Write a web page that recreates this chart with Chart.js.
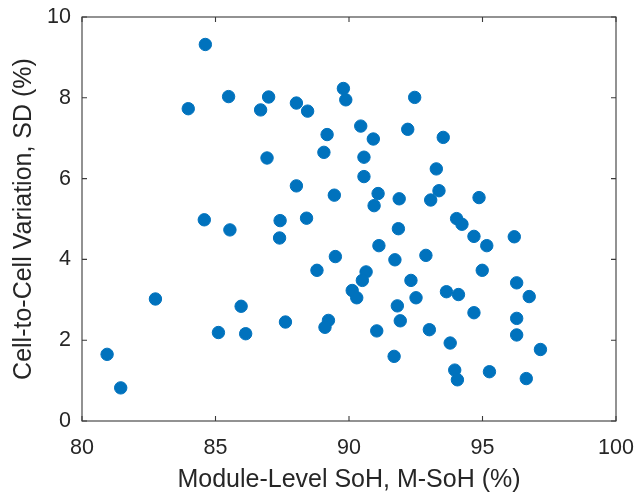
<!DOCTYPE html>
<html>
<head>
<meta charset="utf-8">
<script src="https://cdn.jsdelivr.net/npm/chart.js@4"></script>
<style>
  html, body { margin: 0; padding: 0; background: #fff; }
  canvas { display: block; }
</style>
</head>
<body>
<canvas id="sohChart" width="634" height="496"></canvas>
<script>
// ================================
// Data: module SoH vs cell-to-cell SD
// ================================
const sohValues = [
  84.62, 85.49, 83.98, 86.99, 86.69, 88.03, 88.45, 89.79, 89.88, 89.18,
  89.06, 86.93, 88.03, 89.45, 92.46, 90.44, 90.91, 92.20, 93.53, 90.56,
  90.56, 93.27, 93.37, 91.09, 90.94, 91.88, 93.06, 94.87, 94.03, 94.23,
  84.58, 85.54, 87.42, 88.41, 87.40, 89.49, 88.80, 82.75, 85.96, 85.11,
  86.13, 87.62, 89.23, 89.10, 80.94, 81.45, 91.85, 94.68, 95.16, 96.19,
  91.12, 91.72, 92.88, 90.64, 90.50, 90.12, 90.29, 92.32, 92.51, 94.99,
  96.28, 96.75, 93.65, 94.10, 91.81, 91.92, 94.68, 96.28, 96.28, 91.04,
  93.01, 93.79, 97.17, 91.69, 93.96, 94.06, 95.26, 96.64
];
const sdValues = [
  9.32, 8.03, 7.73, 8.02, 7.70, 7.87, 7.67, 8.23, 7.95, 7.09,
  6.65, 6.51, 5.82, 5.59, 8.01, 7.30, 6.98, 7.22, 7.02, 6.53,
  6.05, 6.24, 5.70, 5.63, 5.33, 5.50, 5.47, 5.53, 5.01, 4.87,
  4.98, 4.73, 4.96, 5.02, 4.53, 4.07, 3.73, 3.02, 2.84, 2.19,
  2.16, 2.45, 2.49, 2.32, 1.65, 0.82, 4.76, 4.57, 4.34, 4.56,
  4.34, 3.99, 4.10, 3.69, 3.48, 3.23, 3.05, 3.48, 3.05, 3.73,
  3.42, 3.08, 3.20, 3.13, 2.85, 2.48, 2.68, 2.54, 2.13, 2.23,
  2.26, 1.93, 1.77, 1.60, 1.26, 1.02, 1.22, 1.05
];

const xTicks = [80, 85, 90, 95, 100];
const yTicks = [0, 2, 4, 6, 8, 10];

const points = sohValues.map((x, i) => ({ x, y: sdValues[i] }));

// ================================
// Axes box + inward ticks
// ================================
const TEXT = "#262626";

const boxTicks = {
  id: "boxTicks",
  afterDraw(chart) {
    const { ctx, chartArea: a, scales } = chart;
    const len = 5;
    ctx.save();
    ctx.strokeStyle = "#3a3a3a";
    ctx.lineWidth = 1.1;
    ctx.strokeRect(a.left, a.top, a.right - a.left, a.bottom - a.top);
    ctx.beginPath();
    xTicks.forEach((v) => {
      const px = scales.x.getPixelForValue(v);
      ctx.moveTo(px, a.bottom); ctx.lineTo(px, a.bottom - len);
      ctx.moveTo(px, a.top); ctx.lineTo(px, a.top + len);
    });
    yTicks.forEach((v) => {
      const py = scales.y.getPixelForValue(v);
      ctx.moveTo(a.left, py); ctx.lineTo(a.left + len, py);
      ctx.moveTo(a.right, py); ctx.lineTo(a.right - len, py);
    });
    ctx.stroke();
    ctx.restore();
  },
};

// ================================
// CHART
// ================================
const FONT = "Liberation Sans, Arial, sans-serif";
const tickFont = { family: FONT, size: 21.5 };
const titleFont = { family: FONT, size: 25 };

new Chart(document.getElementById("sohChart"), {
  type: "scatter",
  data: {
    datasets: [{
      data: points,
      backgroundColor: "#0072BD",
      borderColor: "#0072BD",
      borderWidth: 1,
      pointRadius: 6.2,
    }],
  },
  options: {
    responsive: false,
    animation: false,
    layout: { padding: { top: 17, right: 18, left: 0, bottom: 0 } },
    plugins: { legend: { display: false }, tooltip: { enabled: false } },
    scales: {
      x: {
        type: "linear",
        min: 80,
        max: 100,
        afterBuildTicks: (s) => { s.ticks = xTicks.map((v) => ({ value: v })); },
        afterFit: (s) => {
          s.height = 75;
          s.paddingLeft = 0;
          s.paddingRight = 0;
        },
        grid: { display: false, drawTicks: false },
        border: { display: false },
        ticks: { color: TEXT, font: tickFont, padding: 14, maxRotation: 0 },
        title: {
          display: true,
          text: "Module-Level SoH, M-SoH (%)",
          color: TEXT,
          font: titleFont,
          padding: { top: 0, bottom: 1 },
        },
      },
      y: {
        type: "linear",
        min: 0,
        max: 10,
        afterBuildTicks: (s) => { s.ticks = yTicks.map((v) => ({ value: v })); },
        afterFit: (s) => {
          s.width = 82;
          s.paddingTop = 0;
          s.paddingBottom = 0;
        },
        grid: { display: false, drawTicks: false },
        border: { display: false },
        ticks: { color: TEXT, font: tickFont, padding: 11 },
        title: {
          display: true,
          text: "Cell-to-Cell Variation, SD (%)",
          color: TEXT,
          font: titleFont,
          padding: { top: 9, bottom: 0 },
        },
      },
    },
  },
  plugins: [boxTicks],
});
</script>
</body>
</html>
